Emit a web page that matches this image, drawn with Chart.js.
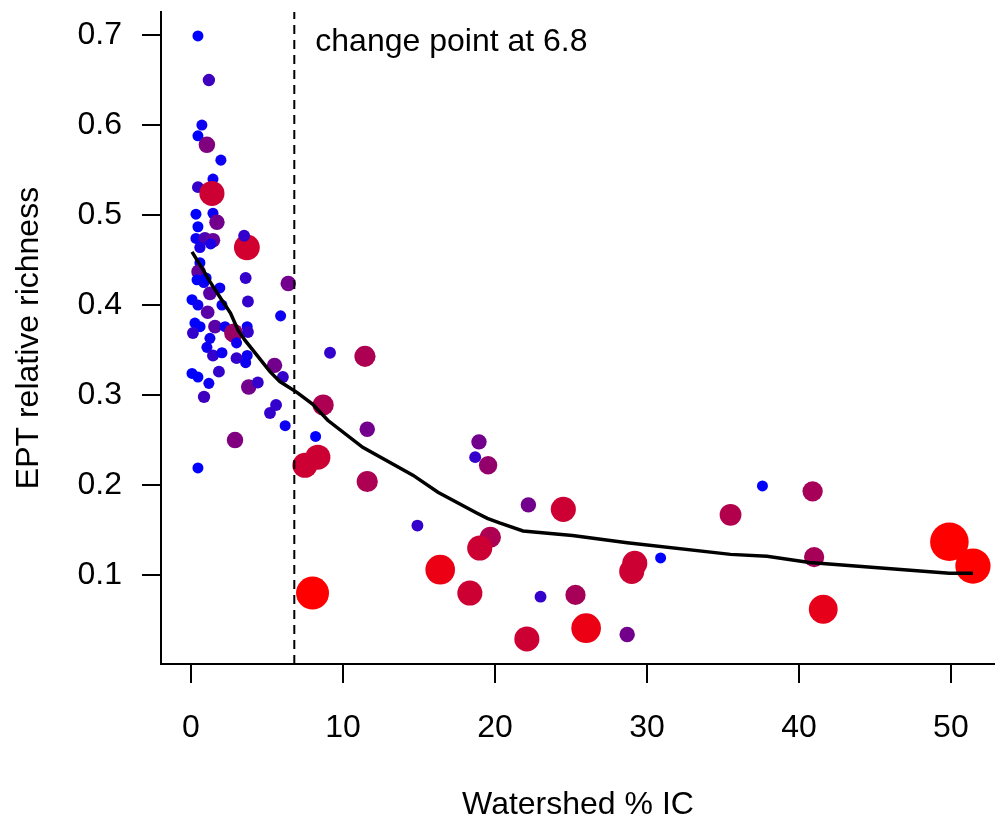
<!DOCTYPE html>
<html>
<head>
<meta charset="utf-8">
<title>EPT relative richness vs watershed % IC</title>
<script src="https://cdn.jsdelivr.net/npm/chart.js@4.4.1/dist/chart.umd.min.js"></script>
<style>
    html, body { margin: 0; padding: 0; background: #fff; overflow: hidden; }
    #wrap { width: 995px; height: 821px; }
</style>
</head>
<body>
<div id="wrap"><canvas id="myChart" width="995" height="821"></canvas></div>
<script>
//site values
const icPct = [
    0.46, 1.18, 0.72, 0.46, 1.05, 1.97, 1.45, 0.46, 1.38, 0.33,
    1.45, 1.71, 0.46, 0.33, 0.92, 1.45, 0.59, 1.30, 3.68, 3.50,
    0.59, 0.50, 0.40, 0.85, 1.00, 1.90, 1.25, 3.60, 0.07, 0.46,
    3.75, 6.40, 2.04, 1.10, 5.90, 0.26, 0.60, 1.58, 2.24, 0.13,
    2.80, 3.70, 3.75, 1.25, 1.05, 3.00, 1.45, 2.04, 3.00, 3.70,
    3.60, 5.50, 6.05, 0.07, 0.46, 1.84, 1.18, 3.80, 4.40, 0.86,
    5.20, 5.60, 6.20, 2.90, 8.20, 0.46, 9.15, 11.45, 8.70, 11.60,
    8.35, 7.50, 18.95, 18.70, 19.55, 11.60, 22.20, 14.90, 19.70, 19.00,
    16.40, 18.35, 8.00, 23.00, 22.10, 24.50, 37.60, 40.90, 35.50, 29.20,
    29.00, 30.90, 41.00, 49.90, 51.45, 41.60, 25.30, 26.00, 28.70
];
const eptRich = [
    0.699, 0.650, 0.600, 0.588, 0.578, 0.561, 0.540, 0.531, 0.524, 0.501,
    0.502, 0.492, 0.487, 0.474, 0.474, 0.472, 0.464, 0.468, 0.464, 0.477,
    0.447, 0.437, 0.428, 0.425, 0.430, 0.419, 0.413, 0.430, 0.406, 0.400,
    0.404, 0.424, 0.400, 0.392, 0.388, 0.380, 0.376, 0.376, 0.376, 0.369,
    0.369, 0.376, 0.370, 0.363, 0.353, 0.358, 0.344, 0.347, 0.341, 0.344,
    0.336, 0.333, 0.320, 0.324, 0.320, 0.326, 0.313, 0.309, 0.314, 0.298,
    0.280, 0.289, 0.266, 0.250, 0.254, 0.219, 0.347, 0.343, 0.289, 0.262,
    0.231, 0.222, 0.248, 0.231, 0.222, 0.204, 0.178, 0.155, 0.142, 0.130,
    0.106, 0.080, 0.080, 0.076, 0.029, 0.173, 0.199, 0.193, 0.167, 0.113,
    0.104, 0.119, 0.120, 0.137, 0.110, 0.062, 0.078, 0.041, 0.034
];
//third variable, drives colour (blue -> red) and symbol size
const impact = [
    0.00, 0.25, 0.05, 0.00, 0.50, 0.05, 0.05, 0.20, 0.80, 0.00,
    0.05, 0.45, 0.00, 0.05, 0.30, 0.40, 0.10, 0.10, 0.82, 0.20,
    0.00, 0.40, 0.00, 0.05, 0.00, 0.05, 0.35, 0.20, 0.00, 0.05,
    0.20, 0.45, 0.05, 0.35, 0.05, 0.00, 0.00, 0.35, 0.05, 0.20,
    0.60, 0.05, 0.20, 0.05, 0.05, 0.05, 0.20, 0.05, 0.20, 0.05,
    0.05, 0.45, 0.20, 0.00, 0.00, 0.20, 0.05, 0.45, 0.20, 0.25,
    0.20, 0.20, 0.05, 0.50, 0.00, 0.00, 0.20, 0.68, 0.68, 0.45,
    0.80, 0.80, 0.45, 0.20, 0.58, 0.68, 0.45, 0.20, 0.68, 0.80,
    0.92, 0.80, 1.00, 0.20, 0.80, 0.80, 0.00, 0.65, 0.70, 0.80,
    0.80, 0.00, 0.65, 1.12, 1.05, 0.90, 0.65, 0.92, 0.45
];
//smoothed fit
const smoothX = [0.07, 0.8, 1.25, 1.9, 2.6, 3.1, 3.55, 4.35, 5.2, 5.85, 6.97, 8.0, 9.0, 11.3, 14.6, 16.25, 18.8, 19.5, 20.3, 21.85, 25.1, 28.7, 35.5, 37.9, 40.7, 49.9, 51.45];
const smoothY = [0.459, 0.439, 0.426, 0.409, 0.391, 0.372, 0.361, 0.344, 0.326, 0.315, 0.303, 0.290, 0.272, 0.242, 0.211, 0.192, 0.169, 0.163, 0.158, 0.149, 0.144, 0.136, 0.123, 0.121, 0.114, 0.102, 0.102];
const changePoint = 6.8;
const xTicks = [0, 10, 20, 30, 40, 50];
const yTicks = [0.1, 0.2, 0.3, 0.4, 0.5, 0.6, 0.7];

const xMin = -1.97, xMax = 52.9;
const yMin = 0.0012, yMax = 0.7256;

const FONT = 'Liberation Sans, Arial, Helvetica, sans-serif';

const sites = icPct.map(function (x, i) {
    return { x: x, y: eptRich[i], v: impact[i] };
});

function siteColor(v) {
    var t = Math.min(1, v);
    return 'rgb(' + Math.round(255 * t) + ',0,' + Math.round(255 * (1 - t)) + ')';
}
function siteRadius(v) {
    return 5.5 + 11 * v * v;
}

//plot box is fixed, no extra room for edge labels
function noPad(s) {
    s.paddingTop = 0;
    s.paddingBottom = 0;
    s.paddingLeft = 0;
    s.paddingRight = 0;
}

//text label next to the change point line
const changeLabel = {
    id: 'changeLabel',
    afterDatasetsDraw: function (chart) {
        var ctx = chart.ctx;
        var xs = chart.scales.x;
        ctx.save();
        ctx.font = '32px ' + FONT;
        ctx.fillStyle = '#000';
        ctx.textAlign = 'left';
        ctx.textBaseline = 'alphabetic';
        ctx.fillText('change point at ' + changePoint, xs.getPixelForValue(changePoint) + 21, chart.chartArea.top + 39);
        ctx.restore();
    }
};

const config = {
    type: 'scatter',
    data: {
        datasets: [{
            label: 'fit',
            data: smoothX.map(function (x, i) { return { x: x, y: smoothY[i] }; }),
            showLine: true,
            borderColor: '#000',
            borderWidth: 3.5,
            pointRadius: 0,
            tension: 0,
            order: 0
        }, {
            label: 'change point',
            data: [{ x: changePoint, y: yMin }, { x: changePoint, y: yMax }],
            showLine: true,
            borderColor: '#000',
            borderWidth: 2,
            borderDash: [9, 6],
            pointRadius: 0,
            order: 1
        }, {
            label: 'sites',
            data: sites,
            pointRadius: function (c) { return siteRadius(c.raw ? c.raw.v : 0); },
            pointHoverRadius: function (c) { return siteRadius(c.raw ? c.raw.v : 0); },
            pointBackgroundColor: function (c) { return siteColor(c.raw ? c.raw.v : 0); },
            pointBorderWidth: 0,
            order: 2
        }]
    },
    options: {
        responsive: false,
        animation: false,
        devicePixelRatio: 1,
        layout: { autoPadding: false, padding: { top: 12, right: 0, bottom: 0, left: 0 } },
        plugins: {
            legend: { display: false },
            tooltip: { enabled: false }
        },
        scales: {
            x: {
                type: 'linear',
                min: xMin,
                max: xMax,
                afterBuildTicks: function (s) { s.ticks = xTicks.map(function (v) { return { value: v }; }); },
                afterFit: function (s) { s.height = 157; noPad(s); },
                ticks: {
                    font: { family: FONT, size: 32 },
                    color: '#000',
                    padding: 26,
                    maxRotation: 0,
                    autoSkip: false
                },
                grid: { drawOnChartArea: false, drawTicks: true, tickLength: 19, color: '#000', lineWidth: 2 },
                border: { display: true, color: '#000', width: 2 },
                title: {
                    display: true,
                    text: 'Watershed % IC',
                    color: '#000',
                    font: { family: FONT, size: 32 },
                    padding: { top: 0, bottom: -3 }
                }
            },
            y: {
                type: 'linear',
                min: yMin,
                max: yMax,
                afterBuildTicks: function (s) { s.ticks = yTicks.map(function (v) { return { value: v }; }); },
                afterFit: function (s) { s.width = 161; noPad(s); },
                ticks: {
                    font: { family: FONT, size: 32 },
                    color: '#000',
                    padding: 20,
                    autoSkip: false,
                    callback: function (v) { return v.toFixed(1); }
                },
                grid: { drawOnChartArea: false, drawTicks: true, tickLength: 19, color: '#000', lineWidth: 2 },
                border: { display: true, color: '#000', width: 2 },
                title: {
                    display: true,
                    text: 'EPT relative richness',
                    color: '#000',
                    font: { family: FONT, size: 32 },
                    padding: { top: 10, bottom: 0 }
                }
            }
        }
    },
    plugins: [changeLabel]
};

const myChart = new Chart(document.getElementById('myChart'), config);
</script>
</body>
</html>
